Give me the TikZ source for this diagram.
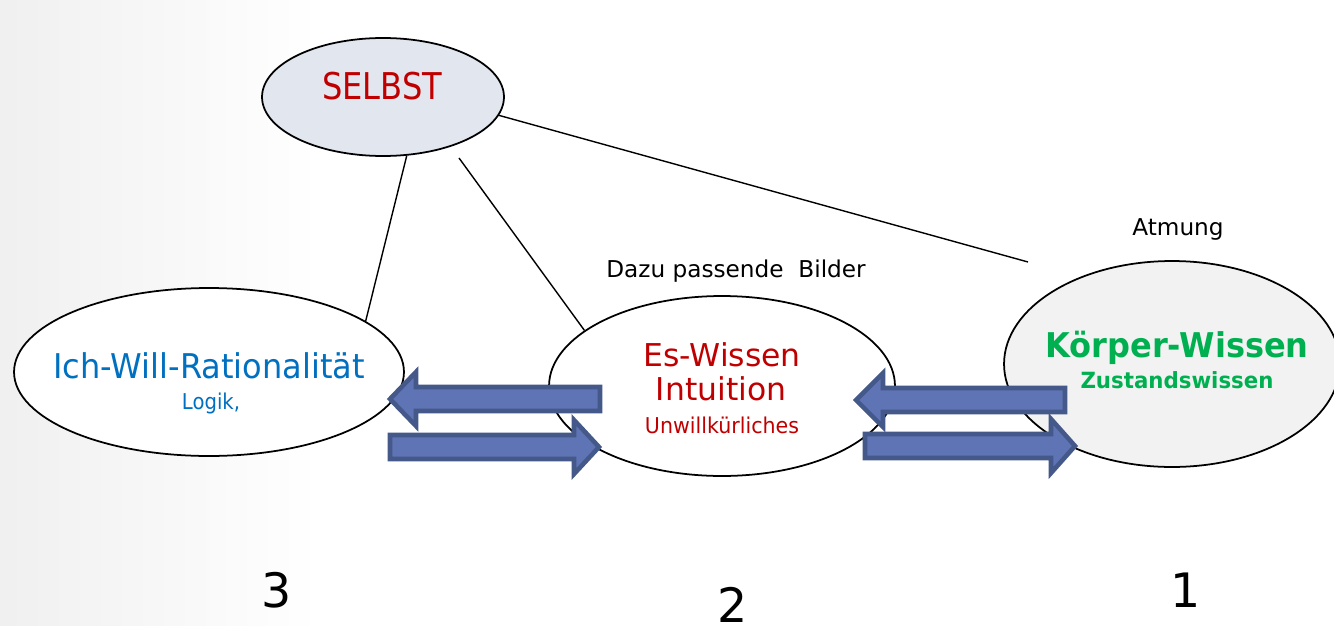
\documentclass[tikz,border=0pt]{standalone}
\usepackage{fontspec}
\setmainfont{DejaVu Sans}
\usepackage{graphicx}
\usetikzlibrary{shapes.geometric}
\usepackage{xcolor}
\definecolor{selbstred}{HTML}{C00000}
\definecolor{ichblue}{HTML}{0070C0}
\definecolor{koerpergreen}{HTML}{00B050}
\definecolor{selbstfill}{HTML}{E2E7EF}
\definecolor{koerperfill}{HTML}{F2F2F2}
\definecolor{arrowfill}{HTML}{5F74B4}
\definecolor{arrowdraw}{HTML}{44588A}

\begin{document}
\begin{tikzpicture}[x=0.02cm, y=-0.02cm]
    \tikzstyle{bubble}=[ellipse, draw=black, line width=1pt, inner sep=0pt, fill=white]
    \tikzstyle{label}=[anchor=base, inner sep=0pt]
    \tikzstyle{link}=[draw=black, line width=0.8pt]
    \tikzstyle{blockarrow}=[fill=arrowfill, draw=arrowdraw, line width=2.6pt, line join=miter]
    \tikzstyle{note}=[label, font=\fontsize{13.2}{16}\selectfont]
    \tikzstyle{digit}=[label, font=\fontsize{27}{32}\selectfont]

    \useasboundingbox (0,0) rectangle (1334,625);
    % light grey fade on the left edge
    \shade[left color=black!6, right color=white] (0,0) rectangle (320,625);

    % Draw the four bubbles
    \node[bubble, fill=selbstfill, minimum width=4.84cm, minimum height=2.36cm] (selbst) at (383,97) {};
    \node[bubble, minimum width=7.8cm, minimum height=3.36cm] (ich) at (209,372) {};
    \node[bubble, minimum width=6.92cm, minimum height=3.6cm] (es) at (722,386) {};
    \node[bubble, fill=koerperfill, minimum width=6.72cm, minimum height=4.12cm] (koerper) at (1172,364) {};

    % Texts in the bubbles
    \node[label, text=selbstred, font=\fontsize{21}{25}\selectfont] (selbsttxt) at (382,99) {\scalebox{0.87}[1]{SELBST}};
    \node[label, text=ichblue, font=\fontsize{19.4}{23}\selectfont] (ichtxt) at (209,378) {\scalebox{0.94}[1]{Ich-Will-Rationalität}};
    \node[label, text=ichblue, font=\fontsize{12.4}{15}\selectfont] (logik) at (211,409) {\scalebox{0.9}[1]{Logik,}};
    \node[label, text=selbstred, font=\fontsize{17.9}{21}\selectfont] (estxt) at (722,366) {Es-Wissen};
    \node[label, text=selbstred, font=\fontsize{17.9}{21}\selectfont] (intuition) at (721,400) {Intuition};
    \node[label, text=selbstred, font=\fontsize{12.4}{15}\selectfont] (unwill) at (722,433) {\scalebox{0.945}[1]{Unwillkürliches}};
    \node[label, text=koerpergreen, font=\bfseries\fontsize{19.4}{23}\selectfont] (koerpertxt) at (1177,357) {\scalebox{0.94}[1]{Körper-Wissen}};
    \node[label, text=koerpergreen, font=\bfseries\fontsize{12.7}{15}\selectfont] (zustand) at (1177,388) {\scalebox{0.955}[1]{Zustandswissen}};

    % Notes above the bubbles
    \node[note] (bilder) at (736,277) {Dazu passende~ Bilder};
    \node[note] (atmung) at (1178,235) {Atmung};

    % Lines from the self
    \coordinate (selbstfoot) at (459,158);
    \coordinate (atmungend) at (1028,262);
    \draw[link] (selbst.-68) -- (ich.18);
    \draw[link] (selbstfoot) -- (es.158);
    \draw[link] (selbst.-9) -- (atmungend);

    % Block arrows between the bubbles: tip / head base / tail / middle
    \foreach \tip/\base/\tail/\yc in {390/416/600/399, 599/574/390/447, 856/883/1065/400, 1075/1051/865/446}
        \draw[blockarrow] (\tip,\yc) -- (\base,\yc-27) -- (\base,\yc-12) -- (\tail,\yc-12)
            -- (\tail,\yc+12) -- (\base,\yc+12) -- (\base,\yc+27) -- cycle;

    % Numbers under the bubbles
    \node[digit] (drei) at (277,607) {3};
    \node[digit] (zwei) at (733,622) {2};
    \node[digit] (eins) at (1186,607) {1};
\end{tikzpicture}
\end{document}
